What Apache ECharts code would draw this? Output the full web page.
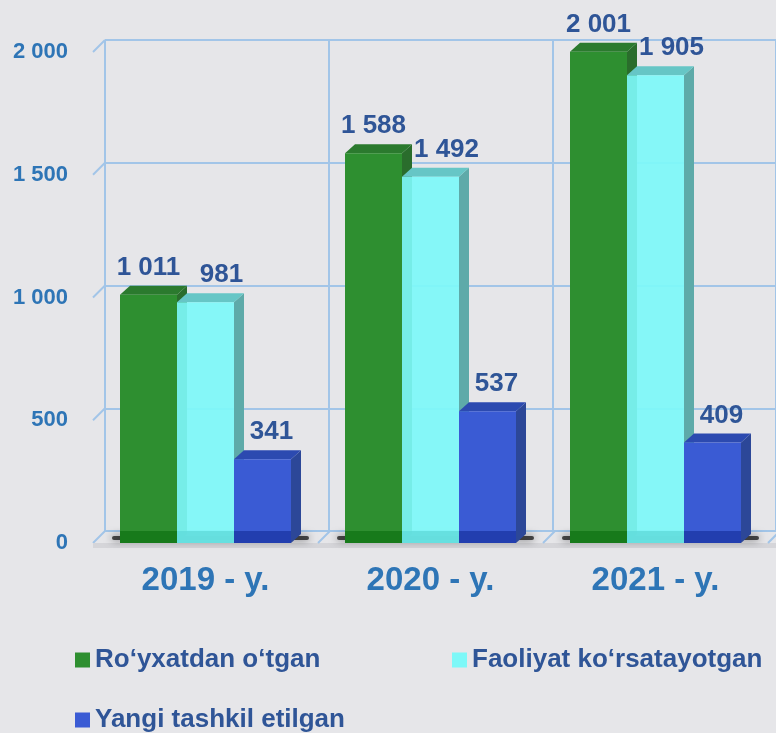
<!DOCTYPE html>
<html>
<head>
<meta charset="utf-8">
<script src="https://cdn.jsdelivr.net/npm/echarts@6/dist/echarts.min.js"></script>
<style>
  html, body { margin: 0; padding: 0; background: #e6e6e9; }
  #chart { width: 776px; height: 733px; }
</style>
</head>
<body>
<div id="chart"></div>
<script>
// data
const categories = ['2019 - y.', '2020 - y.', '2021 - y.'];
const registered = [1011, 1588, 2001];
const active = [981, 1492, 1905];
const newlyCreated = [341, 537, 409];
const seriesNames = ['Ro‘yxatdan o‘tgan', 'Faoliyat ko‘rsatayotgan', 'Yangi tashkil etilgan'];
const yTicks = [0, 500, 1000, 1500, 2000];

const palettes = [
  { front: '#2e8f30', top: '#2b7a2e', side: '#2a6d2c', base: '#137717' },
  { front: '#7df8f8', top: '#66c6c6', side: '#5eaaa9', base: '#62dcdc' },
  { front: '#3a5bd4', top: '#2c4ab0', side: '#2c4798', base: '#1e3aa8' }
];
const labelShift = [0, 16, 9];
const DX = 10, DY = 9;     // bar depth
const WX = 12, WY = 12;    // wall depth
const gridColor = '#a2c5e8';
const fontFamily = '"Liberation Sans", Arial, sans-serif';
const fmt = n => String(n).replace(/\B(?=(\d{3})+(?!\d))/g, ' ');

function barRenderer(slot) {
  const pal = palettes[slot];
  return function (params, api) {
    const v = api.value(1);
    const c = api.coord([api.value(0), v]);
    const base = api.coord([api.value(0), 0]);
    const bw = api.size([1, 0])[0] * 0.76 / 3;
    const x0 = c[0] + (slot - 1.5) * bw;
    const x1 = x0 + bw;
    const top = c[1], bottom = base[1];
    return {
      type: 'group',
      children: [
        { type: 'polygon', shape: { points: [[x1, top], [x1 + DX, top - DY], [x1 + DX, bottom - DY], [x1, bottom]] }, style: { fill: pal.side } },
        { type: 'polygon', shape: { points: [[x0, top], [x0 + DX, top - DY], [x1 + DX, top - DY], [x1, top]] }, style: { fill: pal.top } },
        { type: 'rect', shape: { x: x0, y: top, width: bw, height: bottom - top }, style: { fill: pal.front, opacity: slot === 1 ? 0.92 : 1 } },
        { type: 'rect', shape: { x: x0, y: bottom - 12, width: bw, height: 12 }, style: { fill: pal.base, opacity: 0.85 } },
        { type: 'text', z2: 10, style: { text: fmt(v), x: (x0 + x1) / 2 + labelShift[slot], y: top - DY - 5,
          align: 'center', verticalAlign: 'bottom', font: 'bold 26px ' + fontFamily, fill: '#2f5597' } }
      ]
    };
  };
}

function wallRenderer(params, api) {
  // left wall and floor diagonals drawn from the front grid
  const v = api.value(0);
  const cw = api.size([1, 0])[0];
  const left = api.coord([0, v])[0] - cw / 2;
  const y = api.coord([0, v])[1];
  const kids = [
    { type: 'line', shape: { x1: left, y1: y, x2: left + WX, y2: y - WY }, style: { stroke: gridColor, lineWidth: 2 } }
  ];
  if (v === 0) {
    const right = left + cw * categories.length;
    kids.push({ type: 'rect', shape: { x: left, y: y, width: right - left + WX, height: 5 }, style: { fill: '#d5d5d9' } });
    for (let i = 1; i <= categories.length; i++) {
      const bx = left + cw * i;
      kids.push({ type: 'line', shape: { x1: bx, y1: y, x2: bx + WX, y2: y - WY }, style: { stroke: gridColor, lineWidth: 2 } });
    }
  }
  return { type: 'group', children: kids };
}

function shadowRenderer(params, api) {
  const c = api.coord([api.value(0), 0]);
  const bw = api.size([1, 0])[0] * 0.76;
  return {
    type: 'rect',
    shape: { x: c[0] - bw / 2 - 8, y: c[1] - 7, width: bw + 26, height: 4, r: 2 },
    style: { fill: 'rgba(20,20,20,0.75)', shadowBlur: 8, shadowColor: 'rgba(0,0,0,0.8)' }
  };
}

const labelFont = { fontFamily: fontFamily, fontWeight: 'bold' };
const chart = echarts.init(document.getElementById('chart'));
const option = {
  backgroundColor: '#e6e6e9',
  animation: false,
  grid: [
    { left: 93, top: 52, width: 675, bottom: 190 },
    { left: 105, top: 40, width: 675, bottom: 202 }
  ],
  xAxis: [
    { type: 'category', gridIndex: 0, data: categories, axisLine: { show: false }, axisTick: { show: false },
      axisLabel: Object.assign({ fontSize: 33, color: '#2e75b6', margin: 21 }, labelFont) },
    { type: 'category', gridIndex: 1, data: categories, axisLine: { show: false }, axisTick: { show: false },
      axisLabel: { show: false }, splitLine: { show: true, interval: 0, lineStyle: { color: gridColor, width: 2 } } }
  ],
  yAxis: [
    { type: 'value', gridIndex: 0, min: 0, max: 2000, interval: 500, splitLine: { show: false },
      axisLabel: Object.assign({ fontSize: 22, color: '#2e75b6', margin: 25, formatter: fmt }, labelFont) },
    { type: 'value', gridIndex: 1, min: 0, max: 2000, interval: 500, axisLabel: { show: false },
      splitLine: { show: true, lineStyle: { color: gridColor, width: 2 } } }
  ],
  legend: [0, 1, 2].map(i => ({
    data: [seriesNames[i]],
    left: [70, 447, 70][i],
    top: [642, 642, 702][i],
    icon: 'rect', itemWidth: 15, itemHeight: 15,
    textStyle: Object.assign({ fontSize: 26, color: '#2f5597' }, labelFont)
  })),
  series: [
    { type: 'custom', name: 'wall', xAxisIndex: 0, yAxisIndex: 0, silent: true, z: 1,
      data: yTicks.map(t => [t]), renderItem: wallRenderer },
    { type: 'custom', name: 'shadow', xAxisIndex: 0, yAxisIndex: 0, silent: true, z: 1,
      data: categories.map((c, i) => [i]), renderItem: shadowRenderer },
    ...[registered, active, newlyCreated].map((vals, slot) => ({
      type: 'custom', name: seriesNames[slot], xAxisIndex: 0, yAxisIndex: 0, z: 2,
      itemStyle: { color: palettes[slot].front },
      data: vals.map((v, i) => [i, v]),
      renderItem: barRenderer(slot)
    }))
  ]
};
chart.setOption(option);
</script>
</body>
</html>
